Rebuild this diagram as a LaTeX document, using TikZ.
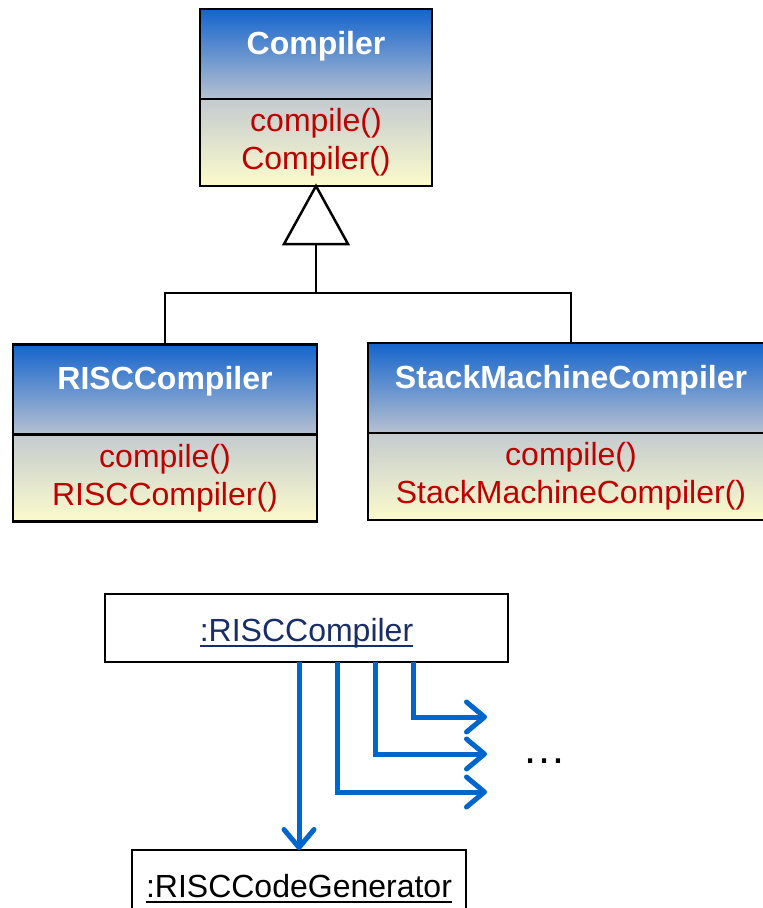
\documentclass[tikz,border=0pt]{standalone}
\usepackage{fontspec}
\setmainfont{Liberation Sans}
\usetikzlibrary{positioning,arrows.meta}

\definecolor{headtop}{RGB}{20,100,205}
\definecolor{headbot}{RGB}{183,193,208}
\definecolor{opstop}{RGB}{196,203,207}
\definecolor{opsbot}{RGB}{252,251,204}
\definecolor{opred}{RGB}{192,0,0}
\definecolor{msgblue}{RGB}{0,102,204}
\definecolor{objnavy}{RGB}{25,45,105}

% underlined object name with a heavier rule
\newcommand{\objname}[1]{\setbox0\hbox{#1}\rlap{\rule[-5pt]{\wd0}{2pt}}\box0}

\tikzset{
    classhead/.style={draw, line width=2.5pt, outer sep=0pt, inner ysep=0pt,
        top color=headtop, bottom color=headbot, text=white,
        font=\bfseries\fontsize{32}{38}\selectfont,
        text height=24pt, text depth=24pt, minimum height=90pt},
    classops/.style={draw, line width=2.5pt, outer sep=0pt, inner ysep=0pt,
        top color=opstop, bottom color=opsbot, text=opred, align=center,
        font=\fontsize{32}{38}\selectfont, minimum height=87pt},
    objbox/.style={draw, line width=2pt, fill=white, outer sep=0pt, inner ysep=0pt,
        font=\fontsize{32}{38}\selectfont,
        text height=30pt, text depth=3pt, minimum height=68pt},
    umlline/.style={line width=2.5pt},
    msg/.style={draw=msgblue, line width=5pt, -{Straight Barb[length=18pt,width=30pt,round]}}
}

\begin{document}
\begin{tikzpicture}[x=1pt, y=-1pt]
    \useasboundingbox (0,0) rectangle (763,908);

    % Superclass
    \node[classhead, minimum width=232pt] (compiler) at (316,54) {Compiler};
    \node[classops, minimum width=232pt, below=0pt of compiler] (compilerops) {compile()\\Compiler()};

    % Subclasses
    \node[classhead, minimum width=304pt] (risc) at (165,389.5) {RISCCompiler};
    \node[classops, minimum width=304pt, below=0pt of risc] (riscops) {compile()\\RISCCompiler()};

    \node[classhead, minimum width=406pt] (stack) at (571,388) {StackMachineCompiler};
    \node[classops, minimum width=406pt, below=0pt of stack] (stackops) {compile()\\StackMachineCompiler()};

    % Generalization
    \coordinate (tribase) at ([yshift=-58pt]compilerops.south);
    \coordinate (joint) at ([yshift=-49pt]tribase);
    \draw[umlline] (tribase) -- (joint);
    \draw[umlline] (risc.north) |- (joint) -| (stack.north);
    \draw[umlline, fill=white, line join=miter] (compilerops.south) -- ++(-32,58) -- ++(64,0) -- cycle;

    % Objects
    \node[objbox, minimum width=403pt, text=objnavy] (riscobj) at (306.5,628) {\objname{:RISCCompiler}};
    \node[objbox, minimum width=334pt] (codegen) at (299,884) {\objname{:RISCCodeGenerator}};

    % Messages
    \draw[msg] (codegen.north |- riscobj.south) -- (codegen.north);
    \foreach \dx/\y/\name in {31/792/msgc, 69/754/msgb, 107/717/msga} {
        \coordinate (\name) at (487,\y);
        \draw[msg] ([xshift=\dx pt]riscobj.south) |- (\name);
    }
    \node[anchor=base, font=\fontsize{44}{50}\selectfont] (more) at (544,763) {…};
\end{tikzpicture}
\end{document}
